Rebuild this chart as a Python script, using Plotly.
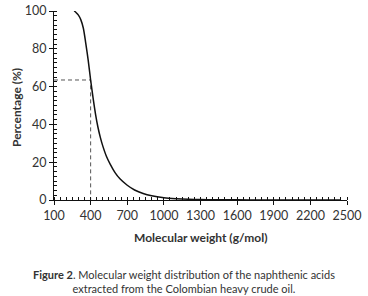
import plotly.graph_objects as go

# Data
mw = [265, 280, 300, 320, 340, 360, 380, 400, 420, 440, 460, 480, 500, 530, 560,
      600, 640, 700, 760, 830, 900, 1000, 1100, 1200, 1300, 1400, 1600, 1800,
      2000, 2200, 2450]
pct = [100, 99.2, 97.8, 95.3, 91, 83, 74, 63.5, 54, 45.5, 38.5, 33, 28.5, 23, 19,
       14.5, 11.2, 7.8, 5.3, 3.4, 2.2, 1.2, 0.7, 0.4, 0.25, 0.15, 0.08, 0.04,
       0.02, 0.01, 0]
cutoff_mw = 400
cutoff_pct = 63.5
x_min, x_max = 100, 2500
x_ticks = [100, 400, 700, 1000, 1300, 1600, 1900, 2200, 2500]
y_ticks = [0, 20, 40, 60, 80, 100]

FONT = "Lato, Open Sans, sans-serif"
TXT = "#333333"

fig = go.Figure()
fig.add_trace(go.Scatter(x=[x_min, cutoff_mw, cutoff_mw], y=[cutoff_pct, cutoff_pct, 0],
                         mode="lines", line=dict(color="#555555", width=1, dash="4px,3px"),
                         hoverinfo="skip"))
fig.add_trace(go.Scatter(x=mw, y=pct, mode="lines",
                         line=dict(color="#111111", width=1.5, shape="spline", smoothing=0.8)))

fig.update_layout(
    width=368, height=296, showlegend=False,
    paper_bgcolor="white", plot_bgcolor="white",
    margin=dict(l=54, r=21, t=11, b=96, autoexpand=False),
    font=dict(family=FONT, size=12, color=TXT),
    xaxis=dict(range=[x_min, x_max], tickvals=x_ticks, ticks="outside", ticklen=4,
               tickcolor="#111", showline=True, linecolor="#111", linewidth=1,
               showgrid=False, zeroline=False, automargin=False,
               tickfont=dict(size=12.5, color=TXT),
               minor=dict(dtick=50, tick0=100, ticks="inside", ticklen=3, tickcolor="#111")),
    yaxis=dict(range=[0, 100], tickvals=y_ticks, ticks="outside", ticklen=4,
               tickcolor="#111", showline=True, linecolor="#111", linewidth=1,
               showgrid=False, zeroline=False, automargin=False,
               tickfont=dict(size=12.5, color=TXT),
               minor=dict(dtick=2.5, tick0=0, ticks="inside", ticklen=3, tickcolor="#111")),
)

fig.add_annotation(text="<b>Molecular weight (g/mol)</b>", xref="paper", yref="paper",
                   x=0.5, y=(200 - 238) / 189, showarrow=False,
                   font=dict(size=12, color=TXT), xanchor="center", yanchor="middle")
fig.add_annotation(text="<b>Percentage (%)</b>", xref="paper", yref="paper",
                   x=(16 - 54) / 293, y=(200 - 108) / 189, textangle=-90, showarrow=False,
                   font=dict(size=12, color=TXT), xanchor="center", yanchor="middle")
fig.add_annotation(text="<b>Figure 2</b>. Molecular weight distribution of the naphthenic acids<br>"
                        "extracted from the Colombian heavy crude oil.",
                   xref="paper", yref="paper", x=(184 - 54) / 293, y=(200 - 281) / 189,
                   showarrow=False, align="center", font=dict(size=11, color=TXT),
                   xanchor="center", yanchor="middle")

# remove the browser's default 8px body margin so the figure sits at the page origin
fig.write_html("out.html", config={"displayModeBar": False},
               post_script="document.body.style.margin='0';")
